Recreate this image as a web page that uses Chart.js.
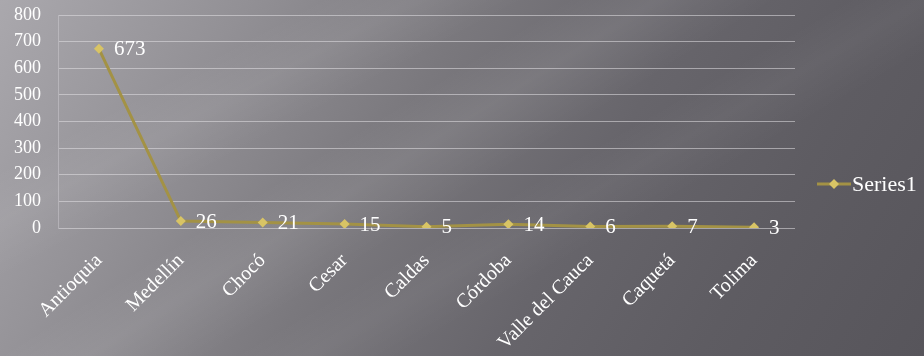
<!DOCTYPE html>
<html>
<head>
<meta charset="utf-8">
<script src="https://cdn.jsdelivr.net/npm/chart.js@4.4.1/dist/chart.umd.min.js"></script>
<style>
  html, body { margin: 0; padding: 0; width: 924px; height: 356px; overflow: hidden; }
  body {
    background:
      linear-gradient(148deg, rgba(255,255,255,0) 38%, rgba(255,255,255,0.07) 44%, rgba(255,255,255,0) 52%),
      linear-gradient(152deg, rgba(255,255,255,0) 20%, rgba(255,255,255,0.06) 26%, rgba(255,255,255,0) 33%),
      linear-gradient(150deg, rgba(255,255,255,0) 55%, rgba(255,255,255,0.04) 60%, rgba(255,255,255,0) 66%),
      linear-gradient(120deg, #aaa8ad 0%, #929095 22%, #7a787d 42%, #67656b 62%, #5e5c62 80%, #57555b 100%);
  }
  #wrap { position: absolute; left: 0; top: 0; width: 924px; height: 356px; }
</style>
</head>
<body>
<div id="wrap"><canvas id="c" width="924" height="356"></canvas></div>
<script>
const categories = ["Antioquia", "Medellín", "Chocó", "Cesar", "Caldas", "Córdoba", "Valle del Cauca", "Caquetá", "Tolima"];
const series1 = [673, 26, 21, 15, 5, 14, 6, 7, 3];
const seriesName = "Series1";
const yTicks = [0, 100, 200, 300, 400, 500, 600, 700, 800];

const FONT = "'Liberation Serif', 'Times New Roman', serif";
const LINE_COLOR = "#a39245";
const POINT_COLOR = "#d8c465";

const labelPlugin = {
  id: 'valueLabels',
  afterDatasetsDraw(chart) {
    const ctx = chart.ctx;
    const meta = chart.getDatasetMeta(0);
    ctx.save();
    ctx.font = "21px " + FONT;
    ctx.fillStyle = "#ffffff";
    ctx.textAlign = "left";
    ctx.textBaseline = "middle";
    meta.data.forEach((pt, i) => {
      ctx.fillText(String(chart.data.datasets[0].data[i]), pt.x + 15, pt.y + 1);
    });
    ctx.restore();
  },
  afterDraw(chart) {
    const ctx = chart.ctx;
    const ca = chart.chartArea;
    const lx = ca.right + 22;
    const ly = ca.bottom - 44;
    ctx.save();
    ctx.strokeStyle = LINE_COLOR;
    ctx.lineWidth = 3;
    ctx.beginPath();
    ctx.moveTo(lx, ly);
    ctx.lineTo(lx + 34, ly);
    ctx.stroke();
    ctx.fillStyle = POINT_COLOR;
    ctx.beginPath();
    const cx = lx + 17, r = 5;
    ctx.moveTo(cx, ly - r); ctx.lineTo(cx + r, ly); ctx.lineTo(cx, ly + r); ctx.lineTo(cx - r, ly);
    ctx.closePath();
    ctx.fill();
    ctx.font = "22px " + FONT;
    ctx.fillStyle = "#ffffff";
    ctx.textAlign = "left";
    ctx.textBaseline = "middle";
    ctx.fillText(seriesName, lx + 35, ly + 1);
    ctx.restore();
  }
};

new Chart(document.getElementById('c'), {
  type: 'line',
  data: {
    labels: categories,
    datasets: [{
      label: seriesName,
      data: series1,
      borderColor: LINE_COLOR,
      borderWidth: 3,
      pointStyle: 'rectRot',
      pointRadius: 5,
      pointBackgroundColor: POINT_COLOR,
      pointBorderColor: POINT_COLOR,
      pointBorderWidth: 0,
      tension: 0,
      fill: false
    }]
  },
  options: {
    responsive: false,
    animation: false,
    devicePixelRatio: 1,
    layout: { padding: { top: 15, right: 129, left: 0, bottom: 0 } },
    plugins: { legend: { display: false }, tooltip: { enabled: false } },
    scales: {
      x: {
        offset: true,
        grid: { display: false, drawTicks: false },
        border: { display: false },
        ticks: {
          color: '#ffffff',
          font: { family: FONT, size: 20 },
          minRotation: 45,
          maxRotation: 45,
          padding: 21,
          autoSkip: false
        },
        afterFit(scale) { scale.height = 128; scale.paddingLeft = 0; scale.paddingRight = 0; }
      },
      y: {
        min: 0,
        max: 800,
        afterBuildTicks(scale) { scale.ticks = yTicks.map(v => ({ value: v })); },
        grid: { color: 'rgba(225,224,228,0.55)', lineWidth: 1, drawTicks: false },
        border: { display: true, color: 'rgba(225,224,228,0.35)' },
        ticks: {
          color: '#ffffff',
          font: { family: FONT, size: 18 },
          padding: 17
        },
        afterFit(scale) { scale.width = 58; scale.paddingTop = 0; scale.paddingBottom = 0; }
      }
    }
  },
  plugins: [labelPlugin]
});
</script>
</body>
</html>
